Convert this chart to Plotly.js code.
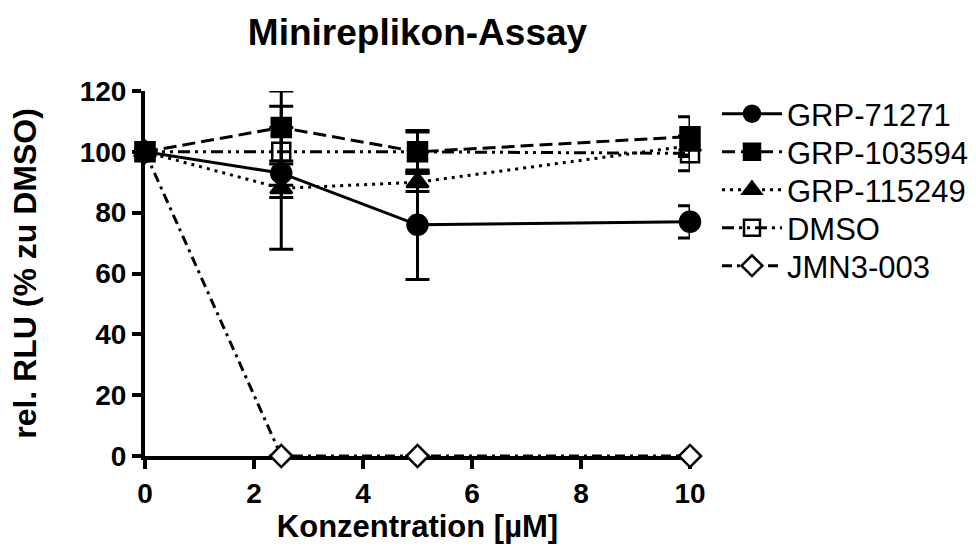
<!DOCTYPE html>
<html>
<head>
<meta charset="utf-8">
<script src="https://cdn.plot.ly/plotly-3.0.1.min.js"></script>
<style>html,body{margin:0;padding:0;background:#fff;}#chart{width:976px;height:554px;}</style>
</head>
<body>
<div id="chart"></div>
<script>
// Concentrations (µM)
const conc = [0, 2.5, 5, 10];

// Series names
const names = ["GRP-71271", "GRP-103594", "GRP-115249", "DMSO", "JMN3-003"];

// Mean values (rel. RLU, % of DMSO)
const grp71271 = [100, 93, 76, 77];
const grp103594 = [100, 108, 100, 105];
const grp115249 = [100, 88, 90, 102];
const dmso = [100, 100, 100, 99.5];
const jmn3003 = [100, 0, 0, 0];

// Symmetric error bars (SD)
const err71271 = [0, 4, 18, 5.3];
const err103594 = [0, 12, 6.5, 6.5];
const err115249 = [0, 20, 3, 3];
const errDmso = [0, 15, 7, 5.7];
const errJmn = [0, 0, 0, 0];

// tick values
const xTicks = [0, 2, 4, 6, 8, 10];
const yTicks = [0, 20, 40, 60, 80, 100, 120];

const FONT = "Arial, 'Liberation Sans', Helvetica, sans-serif";

function mk(name, y, err, symbol, size, dash, color, legendId) {
  return {
    type: "scatter", mode: "lines+markers", name: name, legend: legendId,
    x: conc, y: y, cliponaxis: false,
    line: {color: "#000", width: 3, dash: dash},
    marker: {symbol: symbol, size: size, color: color, line: {color: "#000", width: 2.5}},
    error_y: {type: "data", array: err, visible: true, color: "#000", thickness: 3, width: 12}
  };
}

// drawing order (bottom to top)
const traces = [
  mk(names[4], jmn3003, errJmn, "diamond", 17, "10px,5px,3px,5px", "#fff", "legend5"),
  mk(names[2], grp115249, err115249, "triangle-up", 19, "3px,5px", "#000", "legend3"),
  mk(names[0], grp71271, err71271, "circle", 20, "solid", "#000", "legend"),
  mk(names[3], dmso, errDmso, "square-open", 18, "12px,5px,3px,5px,3px,5px", "#000", "legend4"),
  mk(names[1], grp103594, err103594, "square", 19, "13px,6px", "#000", "legend2")
];

// one legend box per entry, vertical pixel centre of each row
const legendRowsPx = [114, 152, 190, 228, 266];
const plotTop = 91, plotBottom = 456;
function leg(i) {
  return {x: 1.0495, xanchor: "left", y: (plotBottom - legendRowsPx[i]) / (plotBottom - plotTop), yanchor: "middle",
          font: {family: FONT, size: 31, color: "#000"}, bgcolor: "rgba(0,0,0,0)", itemwidth: 60};
}

const layout = {
  width: 976, height: 554,
  paper_bgcolor: "#fff", plot_bgcolor: "#fff",
  margin: {l: 145, r: 286, t: 91, b: 98, autoexpand: false},
  font: {family: FONT, color: "#000"},
  title: {text: "<b>Minireplikon-Assay</b>", font: {family: FONT, size: 37, color: "#000"},
          x: 0.5, xref: "paper", xanchor: "center", y: 0.943, yanchor: "middle"},
  xaxis: {
    range: [0, 10], tickvals: xTicks, ticktext: xTicks.map(String), layer: "below traces",
    showgrid: false, zeroline: false, showline: true, linecolor: "#000", linewidth: 4,
    ticks: "outside", ticklen: 9, tickwidth: 4, tickcolor: "#000",
    tickfont: {family: FONT, size: 28, color: "#000", weight: "bold"},
    title: {text: "<b>Konzentration [µM]</b>", font: {family: FONT, size: 31, color: "#000"}, standoff: 4}
  },
  yaxis: {
    range: [0, 120], tickvals: yTicks, ticktext: yTicks.map(String), layer: "below traces",
    showgrid: false, zeroline: false, showline: true, linecolor: "#000", linewidth: 4,
    ticks: "outside", ticklen: 9, tickwidth: 4, tickcolor: "#000",
    tickfont: {family: FONT, size: 28, color: "#000", weight: "bold"},
    title: {text: "<b>rel. RLU (% zu DMSO)</b>", font: {family: FONT, size: 32, color: "#000"}, standoff: 34}
  },
  showlegend: true,
  legend: leg(0), legend2: leg(1), legend3: leg(2), legend4: leg(3), legend5: leg(4)
};

Plotly.newPlot("chart", traces, layout, {displayModeBar: false, staticPlot: true});
</script>
</body>
</html>
